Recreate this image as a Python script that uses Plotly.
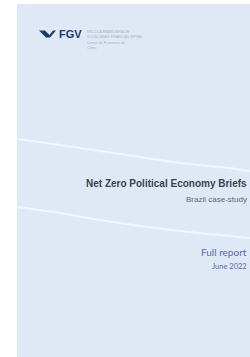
import plotly.graph_objects as go

# ---- content ----
title_text = "Net Zero Political Economy Briefs"
subtitle_text = "Brazil case-study"
report_text = "Full report"
date_text = "June 2022"
logo_text = "FGV"
logo_lines_a = ["ESCOLA BRASILEIRA DE", "ECONOMIA E FINANÇAS (EPGE)"]
logo_lines_b = ["Centro de Economia do", "Clima"]

# decorative curves (page coordinates)
curve1_x = [17, 60, 100, 140, 180, 220, 250]
curve1_y = [139, 145, 151, 157, 163, 167, 171]
curve2_x = [17, 60, 100, 140, 180, 220, 250]
curve2_y = [207, 213, 220, 226, 231, 235, 238]

W, H = 250, 357
fig = go.Figure()

for cx, cy in [(curve1_x, curve1_y), (curve2_x, curve2_y)]:
    fig.add_trace(go.Scatter(x=cx, y=cy, mode="lines",
                             line=dict(color="rgba(255,255,255,0.6)", width=2, shape="spline"),
                             hoverinfo="skip", showlegend=False))

shapes = [
    dict(type="rect", xref="x", yref="y", x0=17, x1=251, y0=4, y1=358,
         fillcolor="#dfe9f5", line=dict(width=0), layer="below"),
    # FGV bird mark
    dict(type="path", xref="x", yref="y",
         path="M 39 30.5 L 45 30.5 L 49.5 35 L 53 30.5 L 56 30.5 L 50 37.5 L 46 37.5 Z",
         fillcolor="#1d3a6e", line=dict(width=0)),
]

ann = []
ann.append(dict(x=57, y=33.8, text="<b>%s</b>" % logo_text, xanchor="left", yanchor="middle",
                font=dict(family="Liberation Sans", size=11, color="#1d3a6e")))
ann.append(dict(x=86, y=29, text="<br>".join(logo_lines_a), xanchor="left", yanchor="top",
                align="left", borderpad=0,
                font=dict(family="Liberation Sans", size=3.6, color="#a7b0bf")))
ann.append(dict(x=86, y=40, text="<br>".join(logo_lines_b), xanchor="left", yanchor="top",
                align="left", borderpad=0,
                font=dict(family="Liberation Sans", size=3.6, color="#a7b0bf")))
ann.append(dict(x=248.5, y=183, text="<b>%s</b>" % title_text, xanchor="right", yanchor="middle",
                font=dict(family="Liberation Sans", size=10, color="#3b4150")))
ann.append(dict(x=248.5, y=199, text=subtitle_text, xanchor="right", yanchor="middle",
                font=dict(family="Liberation Sans", size=8, color="#62676f")))
ann.append(dict(x=248.5, y=252, text=report_text, xanchor="right", yanchor="middle",
                font=dict(family="Lato", size=10, color="#5a6aa8")))
ann.append(dict(x=248.5, y=266, text=date_text, xanchor="right", yanchor="middle",
                font=dict(family="Lato", size=7.5, color="#5a6aa8")))
for a in ann:
    a.update(xref="x", yref="y", showarrow=False)

fig.update_layout(
    width=W, height=H, margin=dict(l=0, r=0, t=0, b=0),
    paper_bgcolor="white", plot_bgcolor="white",
    xaxis=dict(range=[0, W], visible=False, fixedrange=True),
    yaxis=dict(range=[H, 0], visible=False, fixedrange=True),
    shapes=shapes, annotations=ann, showlegend=False,
)
fig.write_html("out.html", config={"displayModeBar": False},
               post_script="document.body.style.margin='0';document.body.style.overflow='hidden';")
